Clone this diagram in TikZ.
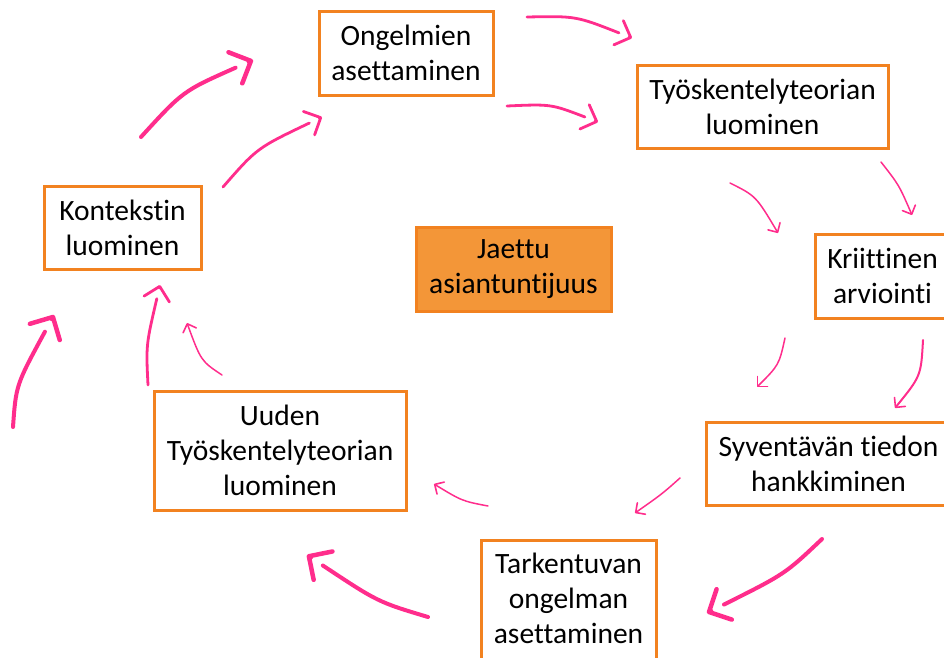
\documentclass[tikz,border=0pt]{standalone}
\usepackage{fontspec}
\setmainfont{Carlito}[Ligatures=NoCommon]
\usetikzlibrary{arrows.meta,calc}
\definecolor{boxedge}{RGB}{242,130,32}
\definecolor{boxfill}{RGB}{243,150,56}
\definecolor{flow}{RGB}{255,45,140}
\tikzset{
  stage/.style={draw=boxedge, line width=3pt, fill=white, rectangle, inner sep=0pt,
    align=center, font=\fontsize{29.5}{35}\selectfont, text=black},
  core/.style={stage, fill=boxfill},
  label text/.style={align=center, font=\fontsize{29.5}{35}\selectfont, text=black, inner sep=0pt},
  % shafts and heads are drawn apart, with a small gap between them
  shaftthick/.style={draw=flow, line width=4pt, line cap=round},
  headthick/.style={draw=flow, line width=4.5pt, line cap=round,
    -{Straight Barb[length=17pt, width=34pt, line width=4.5pt, round]}},
  shaftmid/.style={draw=flow, line width=2.8pt, line cap=round},
  headmid/.style={draw=flow, line width=2.8pt, line cap=round,
    -{Straight Barb[length=13pt, width=26pt, line width=2.8pt, round]}},
  flowthin/.style={draw=flow, line width=1.5pt, line cap=round,
    -{Straight Barb[length=7pt, width=14pt, line width=1.6pt, round]}},
}
% a thick or medium arrow: start, control point, tip
\newcommand\gapthick[3]{%
  \draw[shaftthick] (#1) .. controls (#2) .. ($(#3)!19pt!(#2)$);
  \draw[headthick] ($(#3)!3pt!(#2)$) -- (#3);}
\newcommand\gapmid[3]{%
  \draw[shaftmid] (#1) .. controls (#2) .. ($(#3)!14pt!(#2)$);
  \draw[headmid] ($(#3)!3pt!(#2)$) -- (#3);}
\begin{document}
\begin{tikzpicture}[x=1pt, y=-1pt]
\useasboundingbox (0,0) rectangle (944,657);

% stages of the cycle
\node[stage, minimum width=174pt, minimum height=84pt] (ong) at (406,53) {Ongelmien\\asettaminen};
\node[stage, minimum width=251pt, minimum height=83pt] (tyo) at (762.5,106.5) {Työskentelyteorian\\luominen};
\node[stage, minimum width=157pt, minimum height=83pt] (kon) at (122.5,227.5) {Kontekstin\\luominen};
\node[core, minimum width=195pt, minimum height=84pt] (jae) at (513.5,269) {Jaettu\\asiantuntijuus};
\node[stage, minimum width=135pt, minimum height=84pt] (kri) at (882.5,276) {Kriittinen\\arviointi};
\node[stage, minimum width=245pt, minimum height=83pt] (syv) at (828.5,463.5) {Syventävän tiedon\\hankkiminen};
\node[stage, minimum width=252pt, minimum height=119pt] (uud) at (280,450.5) {Uuden\\Työskentelyteorian\\luominen};
% the last box runs off the lower edge, so its text sits above the box centre
\node[stage, minimum width=175pt, minimum height=130pt] (tar) at (568.5,605) {};
\node[label text] (tartext) at (568.5,598) {Tarkentuvan\\ongelman\\asettaminen};

% end points and bend points of the arrows
\coordinate (a1s) at (141,137);  \coordinate (a1c) at (183,91);  \coordinate (a1e) at (253,60);
\coordinate (a2s) at (223,187);  \coordinate (a2c) at (257,148); \coordinate (a2e) at (322,117);
\coordinate (a3s) at (527,17);   \coordinate (a3c) at (576,16);  \coordinate (a3e) at (632,38);
\coordinate (a4s) at (507,106);  \coordinate (a4c) at (551,104); \coordinate (a4e) at (598,122);
\coordinate (a5s) at (730,183);  \coordinate (a5c) at (756,196); \coordinate (a5e) at (778,233);
\coordinate (a6s) at (881,162);  \coordinate (a6c) at (899,185); \coordinate (a6e) at (912,215);
\coordinate (a7s) at (785,338);  \coordinate (a7c) at (779,365); \coordinate (a7e) at (757,387);
\coordinate (a8s) at (923,340);  \coordinate (a8c) at (921,376); \coordinate (a8e) at (895,408);
\coordinate (a9s) at (680,478);  \coordinate (a9c) at (662,494); \coordinate (a9e) at (635,513);
\coordinate (a10s) at (822,539); \coordinate (a10c) at (785,574); \coordinate (a10e) at (707,613);
\coordinate (a11s) at (488,506); \coordinate (a11c) at (462,501); \coordinate (a11e) at (434,484);
\coordinate (a12s) at (428,617); \coordinate (a12c) at (378,602); \coordinate (a12e) at (307,555);
\coordinate (a13s) at (222,375); \coordinate (a13c) at (201,361); \coordinate (a13e) at (187,323);
\coordinate (a14s) at (148,385); \coordinate (a14c) at (146,345); \coordinate (a14e) at (160,285);
\coordinate (a15s) at (13,427);  \coordinate (a15c) at (16,385);  \coordinate (a15e) at (54,315);

% outer loop
\gapthick{a1s}{a1c}{a1e}
\gapmid{a3s}{a3c}{a3e}
\draw[flowthin] (a6s) .. controls (a6c) .. (a6e);
\draw[flowthin, line width=2pt] (a8s) .. controls (a8c) .. (a8e);
\gapthick{a10s}{a10c}{a10e}
\gapthick{a12s}{a12c}{a12e}
\gapthick{a15s}{a15c}{a15e}

% inner loop
\gapmid{a2s}{a2c}{a2e}
\gapmid{a4s}{a4c}{a4e}
\draw[flowthin] (a5s) .. controls (a5c) .. (a5e);
\draw[flowthin] (a7s) .. controls (a7c) .. (a7e);
\draw[flowthin] (a9s) .. controls (a9c) .. (a9e);
\draw[flowthin] (a11s) .. controls (a11c) .. (a11e);
\draw[flowthin] (a13s) .. controls (a13c) .. (a13e);
\gapmid{a14s}{a14c}{a14e}
\end{tikzpicture}
\end{document}
